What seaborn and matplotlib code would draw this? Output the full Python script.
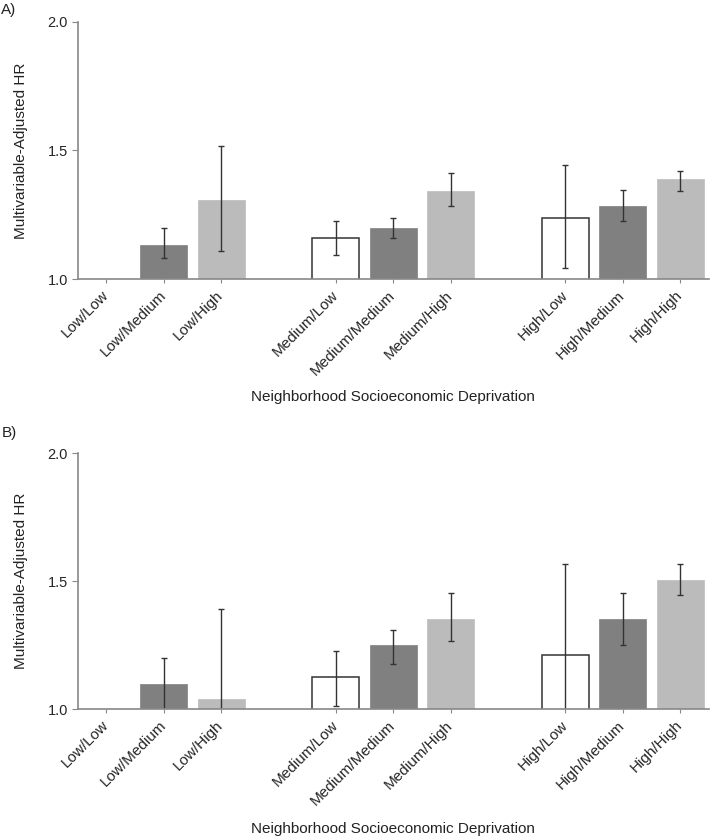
import matplotlib
matplotlib.use("Agg")
import matplotlib.pyplot as plt
import seaborn as sns
import numpy as np
import pandas as pd
from matplotlib.ticker import FormatStrFormatter

# Data
categories = [
    "Low/Low", "Low/Medium", "Low/High",
    "Medium/Low", "Medium/Medium", "Medium/High",
    "High/Low", "High/Medium", "High/High",
]
positions = [0, 1, 2, 4, 5, 6, 8, 9, 10]
level = ["Low", "Medium", "High"] * 3

hr_a = [1.00, 1.134, 1.307, 1.161, 1.200, 1.342, 1.237, 1.285, 1.387]
lo_a = [1.00, 1.082, 1.108, 1.095, 1.160, 1.284, 1.042, 1.225, 1.344]
hi_a = [1.00, 1.199, 1.517, 1.225, 1.237, 1.411, 1.444, 1.345, 1.420]

hr_b = [1.00, 1.098, 1.040, 1.126, 1.250, 1.354, 1.213, 1.354, 1.506]
lo_b = [1.00, 0.950, 0.900, 1.014, 1.176, 1.266, 0.800, 1.251, 1.445]
hi_b = [1.00, 1.200, 1.392, 1.228, 1.309, 1.455, 1.566, 1.455, 1.566]

palette = {"Low": "#ffffff", "Medium": "#808080", "High": "#bbbbbb"}

sns.set_style("ticks")
plt.rcParams["font.family"] = ["Liberation Sans", "DejaVu Sans"]
plt.rcParams["text.color"] = "#222222"
plt.rcParams["axes.labelcolor"] = "#222222"


def draw_panel(ax, hr, lo, hi):
    df = pd.DataFrame({"pos": positions, "hr": hr, "level": level})
    sns.barplot(
        data=df, x="pos", y="hr", hue="level", palette=palette,
        native_scale=True, dodge=False, legend=False, width=0.82,
        errorbar=None, ax=ax,
    )
    for p in ax.patches:
        fc = p.get_facecolor()
        if fc[0] > 0.95:
            # reference bar (value 1.0) shows nothing above the axis
            if p.get_height() <= 1.001:
                p.set_linewidth(0)
            else:
                p.set_edgecolor("#333333")
                p.set_linewidth(1.1)
        else:
            p.set_edgecolor(fc)
            p.set_linewidth(0.5)

    hr = np.array(hr)
    yerr = np.vstack([hr - np.array(lo), np.array(hi) - hr])
    mask = np.array(categories) != "Low/Low"
    ax.errorbar(
        np.array(positions)[mask], hr[mask], yerr=yerr[:, mask],
        fmt="none", ecolor="#333333", elinewidth=1.0, capsize=2.5, capthick=1.0,
    )

    ax.set_xlim(-0.5, 10.5)
    ax.set_ylim(1.0, 2.0)
    ax.set_yticks([1.0, 1.5, 2.0])
    ax.yaxis.set_major_formatter(FormatStrFormatter("%.1f"))
    ax.set_xticks(positions)
    ax.set_xticklabels(categories, rotation=45, ha="right", va="center",
                       rotation_mode="anchor", fontsize=11)
    ax.tick_params(axis="y", labelsize=10.5, length=4, color="#888888", pad=3)
    ax.tick_params(axis="x", length=3, color="#888888", pad=7)

    sns.despine(ax=ax)
    for side in ["left", "bottom"]:
        ax.spines[side].set_color("#888888")
        ax.spines[side].set_linewidth(1.2)

    ax.set_ylabel("Multivariable-Adjusted HR", fontsize=11)
    ax.set_xlabel("Neighborhood Socioeconomic Deprivation", fontsize=11)
    ax.yaxis.set_label_coords(-0.079, 0.5)


fig = plt.figure(figsize=(7.13, 8.38), dpi=100)
ax_a = fig.add_axes([0.109, 0.667, 0.885, 0.307])
ax_b = fig.add_axes([0.109, 0.1536, 0.885, 0.3058])

draw_panel(ax_a, hr_a, lo_a, hi_a)
draw_panel(ax_b, hr_b, lo_b, hi_b)
ax_a.xaxis.set_label_coords(0.5, -0.43)
ax_b.xaxis.set_label_coords(0.5, -0.44)

fig.text(0.002, 0.997, "A)", fontsize=11, va="top", ha="left")
fig.text(0.002, 0.492, "B)", fontsize=11, va="top", ha="left")

fig.savefig("out.png", dpi=100)
plt.close(fig)
